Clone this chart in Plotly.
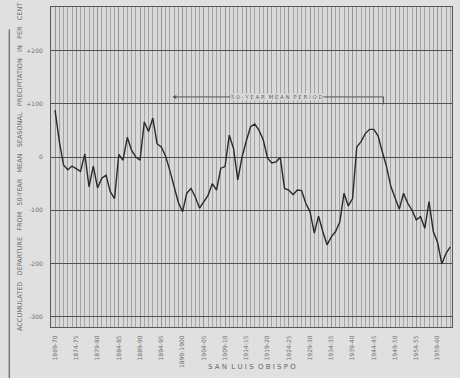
import plotly.graph_objects as go

NB = "\u00a0"

years = list(range(1869, 1963))
departure = [
    88, 30, -15, -24, -17, -22, -27, 6, -56, -17,
    -58, -40, -34, -65, -78, 5, -6, 37, 13, 0,
    -6, 66, 48, 73, 25, 19, 2, -25, -55, -85,
    -103, -68, -59, -75, -96, -85, -72, -50, -62, -21,
    -18, 41, 16, -43, 0, 30, 57, 62, 50, 32,
    -2, -11, -9, -1, -59, -62, -71, -62, -63, -87,
    -103, -143, -111, -140, -165, -150, -140, -122, -68, -92,
    -78, 19, 29, 44, 52, 52, 40, 10, -18, -55,
    -75, -98, -68, -87, -100, -118, -112, -134, -84, -140,
    -160, -201, -181, -169,
]

label_years = list(range(1869, 1960, 5))
x_labels = ["1869-70", "1874-75", "1879-80", "1884-85", "1889-90", "1894-95",
            "1899-1900", "1904-05", "1909-10", "1914-15", "1919-20", "1924-25",
            "1929-30", "1934-35", "1939-40", "1944-45", "1949-50", "1954-55",
            "1959-60"]
y_ticks = [200, 100, 0, -100, -200, -300]
y_labels = ["+200", "+100", "0", "-100", "-200", "-300"]

period_start, period_end, period_level = 1896.6, 1946.3, 113

fig = go.Figure()
fig.add_trace(go.Scatter(
    x=years[:len(departure)], y=departure, mode="lines",
    line=dict(color="#2a2a2a", width=1.4), hoverinfo="skip", showlegend=False,
))

font_fam = "DejaVu Sans, sans-serif"

fig.update_layout(
    width=460, height=378,
    margin=dict(l=51, r=8, t=7, b=51, autoexpand=False),
    paper_bgcolor="#e0e0e0",
    plot_bgcolor="#d9d9d9",
    showlegend=False,
    xaxis=dict(
        range=[1868.05, 1962.4], automargin=False,
        tickmode="array", tickvals=label_years, ticktext=x_labels,
        tickangle=-90, tickfont=dict(family=font_fam, size=6, color="#707070"),
        showgrid=True, gridcolor="#959595", gridwidth=0.6,
        minor=dict(tick0=1869, dtick=1, showgrid=True, gridcolor="#a3a3a3", gridwidth=0.55),
        showline=True, linecolor="#585858", linewidth=1, mirror=True,
        ticks="", zeroline=False, ticklabelstandoff=5,
    ),
    yaxis=dict(
        range=[-319.5, 282], automargin=False,
        tickmode="array", tickvals=y_ticks, ticktext=y_labels,
        tickfont=dict(family=font_fam, size=6, color="#707070"),
        showgrid=True, gridcolor="#525252", gridwidth=1.1,
        showline=True, linecolor="#585858", linewidth=1, mirror=True,
        ticks="", zeroline=False, ticklabelstandoff=6,
    ),
)

ytitle = (NB * 3).join("ACCUMULATED DEPARTURE FROM 50-YEAR MEAN SEASONAL PRECIPITATION IN PER CENT".split(" "))
fig.add_annotation(
    text=ytitle, xref="paper", yref="paper", x=0, y=0.5,
    xanchor="center", yanchor="middle", textangle=-90, showarrow=False,
    font=dict(family=font_fam, size=6.5, color="#6a6a6a"),
    xshift=-31,
)
fig.add_annotation(
    text=(NB * 2).join(" ".join(w) for w in ["SAN", "LUIS", "OBISPO"]),
    xref="paper", yref="paper", x=0.5, y=0, yshift=-34,
    xanchor="center", yanchor="top", showarrow=False,
    font=dict(family=font_fam, size=7, color="#666666"),
)

# 50-year mean period marker
fig.add_annotation(
    x=period_start, y=period_level, ax=1910.6, ay=period_level,
    xref="x", yref="y", axref="x", ayref="y", text="",
    showarrow=True, arrowhead=2, arrowsize=0.8, arrowwidth=1, arrowcolor="#555555",
)
fig.add_shape(type="line", x0=1931.2, x1=period_end, y0=period_level, y1=period_level,
              xref="x", yref="y", line=dict(color="#555555", width=1))
fig.add_shape(type="line", x0=period_end, x1=period_end, y0=period_level, y1=period_level - 14,
              xref="x", yref="y", line=dict(color="#555555", width=1))
fig.add_annotation(
    text=(NB * 2).join(NB.join(w) for w in ["50-YEAR", "MEAN", "PERIOD"]),
    x=1921.2, y=period_level, xref="x", yref="y", showarrow=False,
    font=dict(family=font_fam, size=5.5, color="#666666"),
    bgcolor="#d9d9d9", borderpad=0,
)

# scan edge on the left
fig.add_shape(type="line", xref="paper", yref="paper", x0=-0.104, x1=-0.104, y0=-0.16, y1=0.93,
              line=dict(color="#7a7a7a", width=1.5))

fig.write_html("out.html", config={"displayModeBar": False},
               post_script="document.body.style.margin='0px';document.body.style.background='#e0e0e0';")
